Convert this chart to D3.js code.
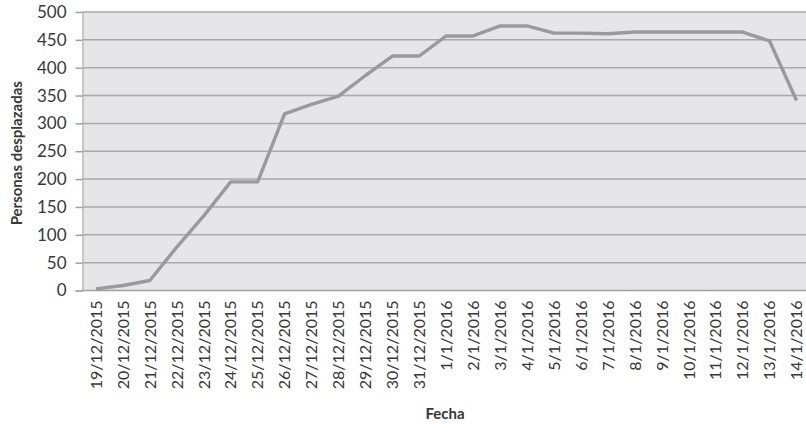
<!DOCTYPE html>
<html>
<head>
<meta charset="utf-8">
<script src="https://cdn.jsdelivr.net/npm/d3@7"></script>
<style>
  html, body { margin: 0; padding: 0; background: #ffffff; }
  svg { display: block; }
  text { font-family: Lato, "Open Sans", sans-serif; fill: #383838; }
</style>
</head>
<body>
<div id="chart"></div>
<script>
// Daily count of displaced people, 19 Dec 2015 – 14 Jan 2016
const fechas = [
  "19/12/2015", "20/12/2015", "21/12/2015", "22/12/2015", "23/12/2015",
  "24/12/2015", "25/12/2015", "26/12/2015", "27/12/2015", "28/12/2015",
  "29/12/2015", "30/12/2015", "31/12/2015", "1/1/2016", "2/1/2016",
  "3/1/2016", "4/1/2016", "5/1/2016", "6/1/2016", "7/1/2016",
  "8/1/2016", "9/1/2016", "10/1/2016", "11/1/2016", "12/1/2016",
  "13/1/2016", "14/1/2016"
];
const personas = [
  3, 9, 18, 78, 134,
  195, 195, 317, 334, 349,
  386, 421, 421, 457, 457,
  475, 475, 462, 462, 461,
  464, 464, 464, 464, 464,
  448, 341
];
const yTicks = [0, 50, 100, 150, 200, 250, 300, 350, 400, 450, 500];

const W = 806, H = 424;
const plotL = 82.5, plotR = 810, plotT = 12, plotB = 290.5;

const svg = d3.select("#chart").append("svg")
  .attr("width", W).attr("height", H);

const x = d3.scaleBand().domain(fechas).range([plotL, plotR]).padding(0);
const y = d3.scaleLinear().domain([0, 500]).range([plotB, plotT]);
const cx = d => x(d) + x.bandwidth() / 2;

// plot background
svg.append("rect")
  .attr("x", plotL).attr("y", plotT)
  .attr("width", plotR - plotL).attr("height", plotB - plotT)
  .attr("fill", "#e6e6e8");

// horizontal gridlines
svg.append("g").selectAll("line").data(yTicks.filter(v => v > 0)).join("line")
  .attr("x1", plotL).attr("x2", plotR)
  .attr("y1", d => y(d)).attr("y2", d => y(d))
  .attr("stroke", "#a9a9ab").attr("stroke-width", 1.5);

// y axis
const yAxis = svg.append("g")
  .attr("transform", `translate(${plotL},0)`)
  .call(d3.axisLeft(y).tickValues(yTicks).tickSize(7).tickPadding(9));
yAxis.select(".domain").attr("stroke", "#b0b0b2").attr("stroke-width", 1.2);
yAxis.selectAll(".tick line").attr("stroke", "#a0a0a2").attr("stroke-width", 1.5);
yAxis.selectAll(".tick text")
  .style("font-family", "Lato, 'Open Sans', sans-serif")
  .attr("font-size", 17).attr("fill", "#383838");

// x axis baseline
svg.append("line")
  .attr("x1", plotL).attr("x2", plotR)
  .attr("y1", plotB).attr("y2", plotB)
  .attr("stroke", "#a0a0a2").attr("stroke-width", 1.6);

// x category labels, rotated
svg.append("g").selectAll("text").data(fechas).join("text")
  .attr("transform", d => `translate(${cx(d)},${plotB + 10}) rotate(-90)`)
  .attr("text-anchor", "end")
  .attr("dy", "0.36em")
  .attr("font-size", 16)
  .text(d => d);

// series line
svg.append("path")
  .datum(personas)
  .attr("fill", "none")
  .attr("stroke", "#9a9a9c")
  .attr("stroke-width", 3.4)
  .attr("stroke-linejoin", "round")
  .attr("d", d3.line().x((d, i) => cx(fechas[i])).y(d => y(d)));

// axis titles
svg.append("text")
  .attr("transform", `translate(22,${(plotT + plotB) / 2 + 2}) rotate(-90)`)
  .attr("text-anchor", "middle")
  .attr("font-size", 15).attr("font-weight", "bold")
  .text("Personas desplazadas");

svg.append("text")
  .attr("x", 445).attr("y", 419)
  .attr("text-anchor", "middle")
  .attr("font-size", 15).attr("font-weight", "bold")
  .text("Fecha");
</script>
</body>
</html>
